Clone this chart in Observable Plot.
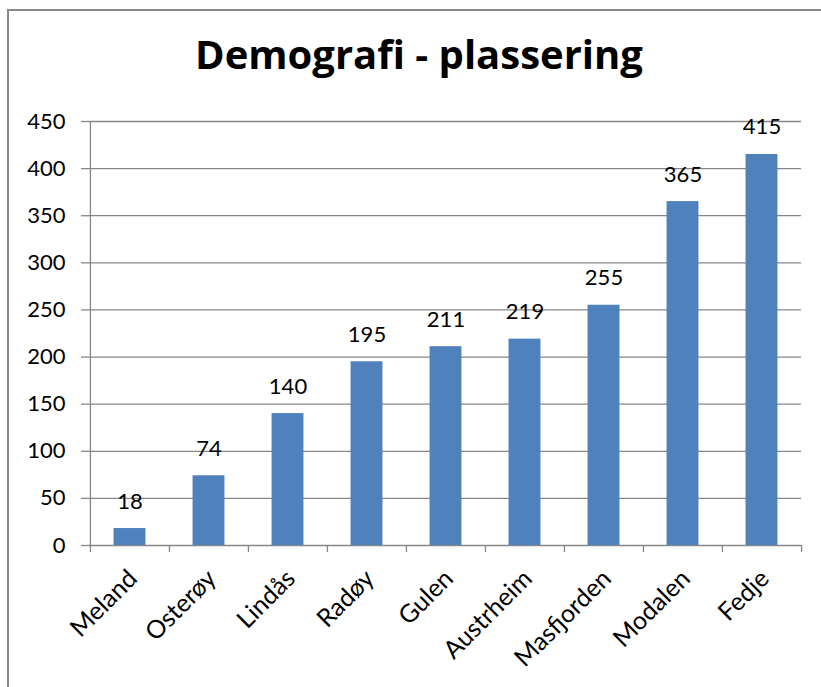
<!DOCTYPE html>
<html>
<head>
<meta charset="utf-8">
<script src="https://cdn.jsdelivr.net/npm/d3@7"></script>
<script src="https://cdn.jsdelivr.net/npm/@observablehq/plot@0.6"></script>
<style>
  html, body { margin: 0; padding: 0; background: white; }
  #wrap { position: relative; width: 821px; height: 687px; overflow: hidden; }
  #border { position: absolute; left: 7px; top: 9px; width: 900px; height: 900px;
            border-left: 2px solid #8a8a8a; border-top: 2px solid #8a8a8a; box-sizing: border-box; }
  #title { position: absolute; top: 26px; left: 419px; transform: translateX(-50%);
           font-family: "Open Sans", sans-serif; font-weight: bold; font-size: 40px; line-height: 56px; white-space: nowrap; color: #000; }
  #chart { position: absolute; left: 0; top: 0; }
</style>
</head>
<body>
<div id="wrap">
  <div id="border"></div>
  <div id="chart"></div>
  <div id="title">Demografi - plassering</div>
</div>
<script>
const categories = ["Meland", "Osterøy", "Lindås", "Radøy", "Gulen", "Austrheim", "Masfjorden", "Modalen", "Fedje"];
const values = [18, 74, 140, 195, 211, 219, 255, 365, 415];
const yTicks = [0, 50, 100, 150, 200, 250, 300, 350, 400, 450];

const data = categories.map((c, i) => ({category: c, value: values[i]}));

const W = 821, H = 687, mL = 89, mR = 20, mT = 121, mB = 142;
const bw = (W - mL - mR) / categories.length;
const barW = 32;
const inset = (bw - barW) / 2;
const font = "Lato, sans-serif";
const gridColor = "#878787";

const plot = Plot.plot({
  width: W,
  height: H,
  marginLeft: mL,
  marginRight: mR,
  marginTop: mT,
  marginBottom: mB,
  style: {background: "transparent", fontFamily: font, color: "#000"},
  x: {domain: categories, padding: 0, axis: null},
  y: {domain: [0, 450], axis: null},
  marks: [
    Plot.gridY(yTicks, {stroke: gridColor, strokeOpacity: 1, strokeWidth: 1.3}),
    Plot.axisY(yTicks, {label: null, tickSize: 8, tickPadding: 16, fontSize: 22, stroke: gridColor, strokeOpacity: 1, strokeWidth: 1.3, fill: "#000", fontFamily: font}),
    Plot.barY(data, {x: "category", y: "value", fill: "#4f81bd", insetLeft: inset, insetRight: inset}),
    // y axis line
    Plot.ruleX(categories.slice(0, 1), {x: d => d, dx: -bw / 2, y1: 0, y2: 450, stroke: gridColor, strokeWidth: 1.3}),
    // x axis boundary ticks
    Plot.ruleX(categories, {x: d => d, dx: -bw / 2, y1: 0, y2: 0, insetBottom: -7, stroke: gridColor, strokeWidth: 1.3}),
    Plot.ruleX(categories.slice(-1), {x: d => d, dx: bw / 2, y1: 0, y2: 0, insetBottom: -7, stroke: gridColor, strokeWidth: 1.3}),
    // value labels
    Plot.text(data, {x: "category", y: "value", text: d => String(d.value), dy: -20, lineAnchor: "bottom", fontSize: 22, fill: "#000", fontFamily: font}),
    // x labels
    Plot.text(categories, {x: d => d, y: 0, text: d => d, rotate: -45, textAnchor: "end", lineAnchor: "middle", dx: 3, dy: 29, fontSize: 25, fill: "#000", fontFamily: font})
  ]
});
document.getElementById("chart").appendChild(plot);
</script>
</body>
</html>
